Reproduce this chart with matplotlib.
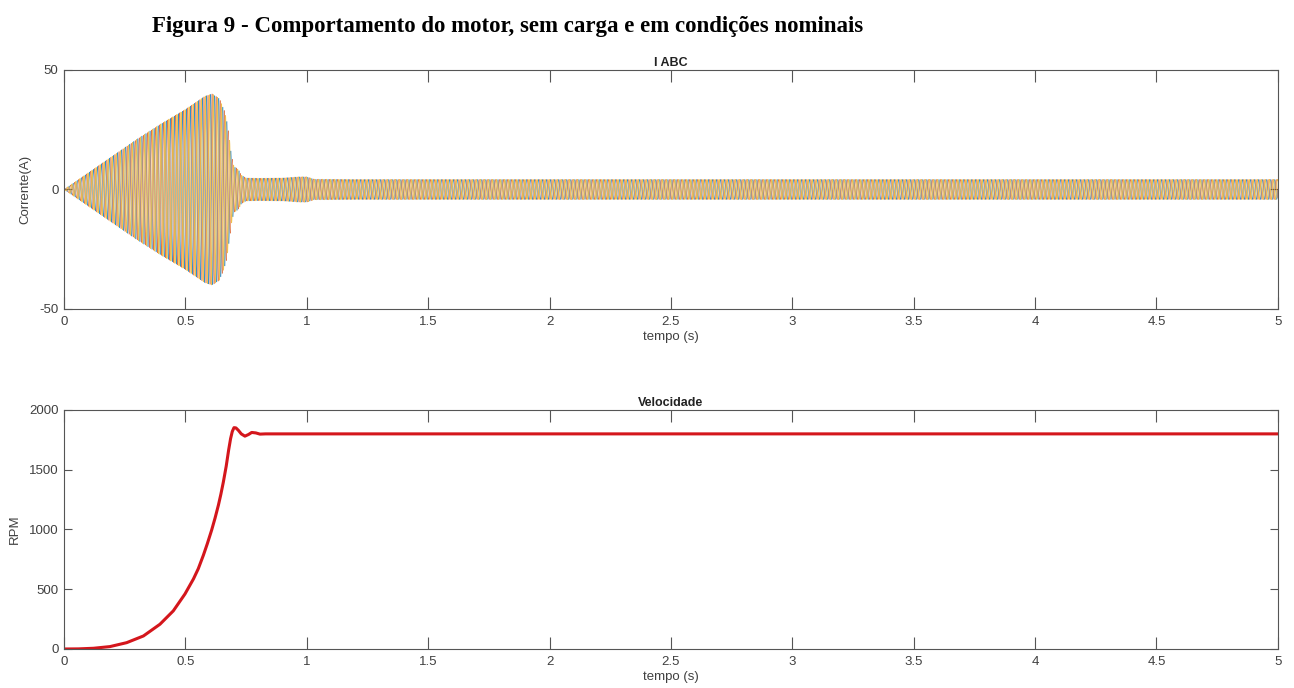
import numpy as np
import matplotlib
matplotlib.use("Agg")
import matplotlib.pyplot as plt

plt.rcParams['font.family'] = 'Liberation Sans'
plt.rcParams['font.size'] = 9
plt.rcParams['axes.unicode_minus'] = False

# envelope of the phase currents (A) vs time (s)
t_env = [0.0, 0.05, 0.10, 0.20, 0.30, 0.40, 0.50, 0.58, 0.61, 0.64, 0.66, 0.67, 0.68,
         0.69, 0.70, 0.71, 0.72, 0.73, 0.75, 0.80, 0.90, 0.97, 1.00, 1.03, 1.20, 5.0]
i_env = [0.0, 3.5, 7.0, 14.0, 21.0, 27.5, 33.5, 39.0, 40.0, 38.0, 33.0, 29.0, 22.0,
         14.0, 9.5, 9.0, 8.0, 6.0, 4.8, 4.7, 4.8, 5.3, 5.3, 4.3, 4.2, 4.2]
f_grid = 60.0  # Hz
phases = [0.0, -2*np.pi/3, 2*np.pi/3]
phase_colors = ['#0072BD', '#D95319', '#EDB120']
phase_widths = [0.4, 0.4, 0.6]

# rotor speed (RPM) vs time (s)
t_rpm = [0.0, 0.06, 0.121, 0.189, 0.258, 0.327, 0.395, 0.450, 0.498, 0.533,
         0.553, 0.574, 0.590, 0.608, 0.622, 0.636, 0.646, 0.656, 0.668, 0.678,
         0.686, 0.693, 0.700, 0.708, 0.718, 0.730, 0.745, 0.760, 0.773, 0.790,
         0.807, 0.83, 1.0, 5.0]
rpm = [0, 1, 6, 20, 53, 109, 207, 319, 460, 586,
       672, 785, 880, 995, 1095, 1205, 1295, 1395, 1530, 1665,
       1760, 1820, 1852, 1850, 1830, 1800, 1781, 1795, 1812, 1808,
       1798, 1800, 1800, 1800]

t = np.arange(0, 5.0, 1/20000)
amp = np.interp(t, t_env, i_env)

fig = plt.figure(figsize=(12.94, 6.88), dpi=100)
ax1 = fig.add_axes([0.0495, 0.5509, 0.938, 0.3474])
ax2 = fig.add_axes([0.0495, 0.0567, 0.938, 0.3474])

for ph, c, w in zip(phases, phase_colors, phase_widths):
    ax1.plot(t, amp*np.sin(2*np.pi*f_grid*t + ph), color=c, lw=w, alpha=0.8)

ax2.plot(t_rpm, rpm, color='#d4161c', lw=2.2, solid_capstyle='round')

gray = '#404040'
for ax in (ax1, ax2):
    ax.set_xlim(0, 5)
    ax.set_xticks(np.arange(0, 5.01, 0.5))
    ax.set_xticklabels(['0', '0.5', '1', '1.5', '2', '2.5', '3', '3.5', '4', '4.5', '5'])
    ax.tick_params(axis='x', direction='in', length=8.6, width=0.8, top=True,
                   colors='#555555', labelcolor=gray, labelsize=9.5, pad=5)
    ax.tick_params(axis='y', direction='in', length=5.8, width=0.8, right=True,
                   colors='#555555', labelcolor=gray, labelsize=9.5, pad=4)
    for s in ax.spines.values():
        s.set_color('#555555')
        s.set_linewidth(0.8)
    ax.set_xlabel('tempo (s)', color=gray, fontsize=9.5, labelpad=2)

ax1.set_ylim(-50, 50)
ax1.set_yticks([-50, 0, 50])
ax1.set_ylabel('Corrente(A)', color=gray, fontsize=9.5, labelpad=6)
ax1.set_title('I ABC', fontsize=9, fontweight='bold', color='#222222', pad=3)

ax2.set_ylim(0, 2000)
ax2.set_yticks([0, 500, 1000, 1500, 2000])
ax2.set_ylabel('RPM', color=gray, fontsize=9.5, labelpad=6)
ax2.set_title('Velocidade', fontsize=9, fontweight='bold', color='#222222', pad=3)

fig.text(0.392, 0.962, 'Figura 9 - Comportamento do motor, sem carga e em condições nominais',
         ha='center', va='center', family='Liberation Serif', fontweight='bold', fontsize=16.5)

fig.savefig('out.png', dpi=100)
